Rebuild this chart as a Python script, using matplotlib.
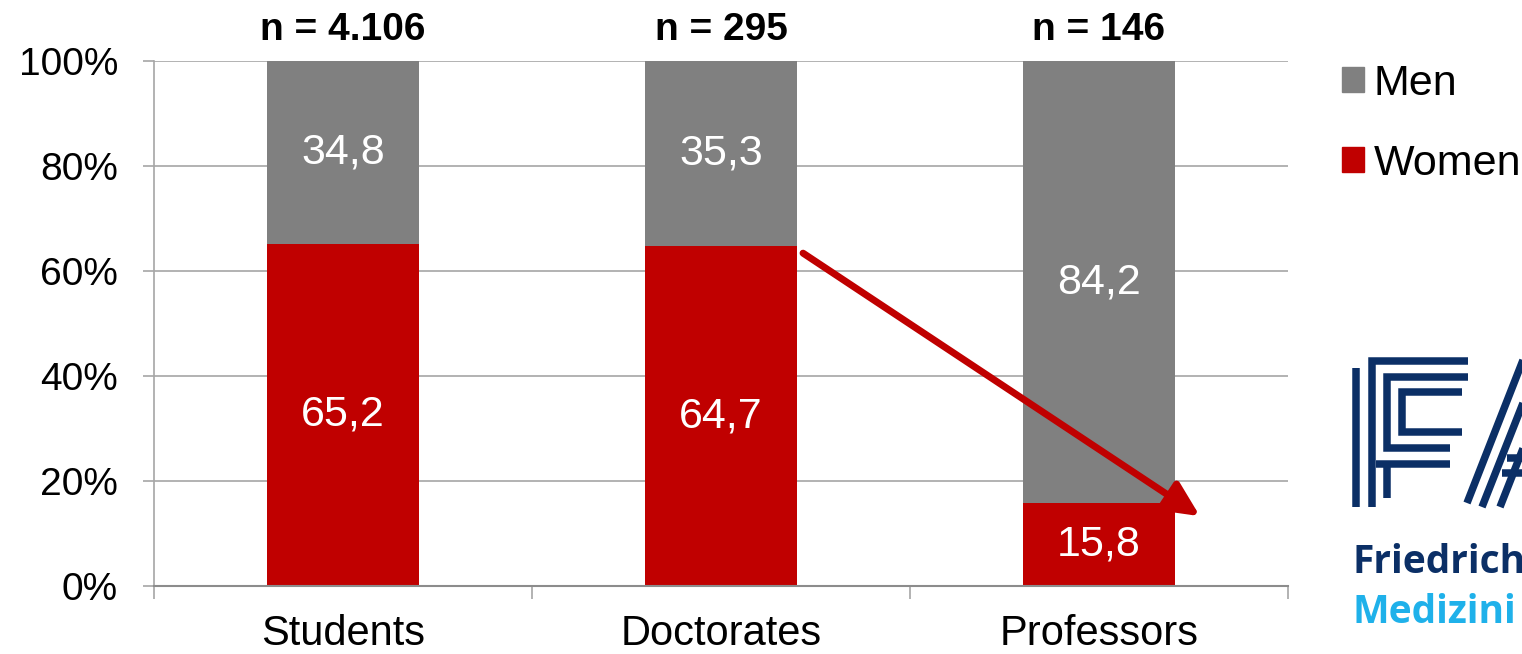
import matplotlib
matplotlib.use('Agg')
import matplotlib.pyplot as plt
from matplotlib.patches import Patch
from matplotlib.lines import Line2D
import numpy as np

plt.rcParams['font.family'] = ['Liberation Sans', 'DejaVu Sans']

groups = ['Students', 'Doctorates', 'Professors']
n_total = ['4.106', '295', '146']
women = [65.2, 64.7, 15.8]
men = [34.8, 35.3, 84.2]

RED = '#c00000'
GREY = '#808080'
GRID = '#a6a6a6'


def comma(v):
    return f'{v:.1f}'.replace('.', ',')


fig = plt.figure(figsize=(15.22, 6.54), dpi=100)
ax = fig.add_axes([154 / 1522, 1 - 586 / 654, (1288 - 154) / 1522, 525 / 654])

x = np.arange(len(groups))
w = 0.4
ax.bar(x, women, w, color=RED, label='Women', zorder=2)
ax.bar(x, men, w, bottom=women, color=GREY, label='Men', zorder=2)

for i in range(len(groups)):
    ax.text(x[i], women[i] / 2, comma(women[i]), ha='center', va='center',
            color='white', fontsize=31, zorder=3)
    ax.text(x[i], women[i] + men[i] / 2, comma(men[i]), ha='center',
            va='center', color='white', fontsize=31, zorder=3)
    ax.text(x[i], 105.9, f'n = {n_total[i]}', ha='center', va='center',
            fontsize=28, fontweight='bold', clip_on=False)

ax.set_xlim(-0.5, 2.5)
ax.set_ylim(0, 100)
ax.set_yticks(np.arange(0, 101, 20))
ax.set_yticklabels([f'{v}%' for v in range(0, 101, 20)], fontsize=28)
ax.set_xticks(x)
ax.set_xticklabels(groups, fontsize=30)
ax.set_xticks([-0.5, 0.5, 1.5, 2.5], minor=True)
ax.tick_params(axis='x', which='major', length=0, pad=20)
ax.tick_params(axis='x', which='minor', length=9, width=1.2, color=GRID,
               direction='out')
ax.tick_params(axis='y', length=8, width=1.2, color=GRID, direction='out',
               pad=18)
ax.yaxis.grid(True, color=GRID, lw=1.2, zorder=0)
ax.set_axisbelow(True)
for s in ['top', 'right']:
    ax.spines[s].set_visible(False)
ax.spines['left'].set_color(GRID)
ax.spines['left'].set_linewidth(1.2)
ax.spines['bottom'].set_color('#8c8c8c')
ax.spines['bottom'].set_linewidth(1.5)

# Abwaertstrend Doktorat -> Professur
ax.annotate('', xy=(2.267, 13.3), xytext=(1.217, 63.4),
            arrowprops=dict(arrowstyle='-|>,head_length=1.05,head_width=0.5',
                            mutation_scale=20, color=RED, lw=5,
                            shrinkA=0, shrinkB=0),
            zorder=4)

ax.legend(handles=[Patch(color=GREY, label='Men'),
                   Patch(color=RED, label='Women')],
          loc='upper left', bbox_to_anchor=(1342 / 1522, 1 - 64 / 654),
          bbox_transform=fig.transFigure, frameon=False, fontsize=31,
          handlelength=0.52, handleheight=0.52, handletextpad=0.22,
          labelspacing=0.93, borderpad=0, borderaxespad=0)

# FAU-Logo (vereinfacht) unten rechts
lx = fig.add_axes([0, 0, 1, 1], zorder=5)
lx.set_xlim(0, 1522)
lx.set_ylim(654, 0)
lx.axis('off')
lx.patch.set_alpha(0)
NAVY = '#0b2f66'
LIGHT = '#1fb1ea'
lw = 5.4
strokes = [
    [(1356, 507), (1356, 368)],
    [(1372, 507), (1372, 361), (1468, 361)],
    [(1468, 377), (1387, 377), (1387, 448), (1450, 448)],
    [(1462, 392), (1402, 392), (1402, 432), (1462, 432)],
    [(1376, 464), (1450, 464)],
    [(1387, 464), (1387, 498)],
    [(1467, 503), (1525, 355)],
    [(1482, 507), (1542, 355)],
    [(1500, 507), (1535, 418)],
    [(1507, 458), (1525, 458)],
    [(1502, 473), (1525, 473)],
]
for s in strokes:
    xs, ys = zip(*s)
    lx.add_line(Line2D(xs, ys, color=NAVY, lw=lw, solid_capstyle='butt',
                       solid_joinstyle='miter'))
lx.text(1353, 573, 'Friedrich', color=NAVY, fontsize=28, fontweight='bold',
        family='Open Sans', va='baseline', ha='left')
lx.text(1353, 623, 'Medizini', color=LIGHT, fontsize=28,
        fontweight='bold', family='Open Sans', va='baseline', ha='left')

fig.savefig('out.png', dpi=100)
